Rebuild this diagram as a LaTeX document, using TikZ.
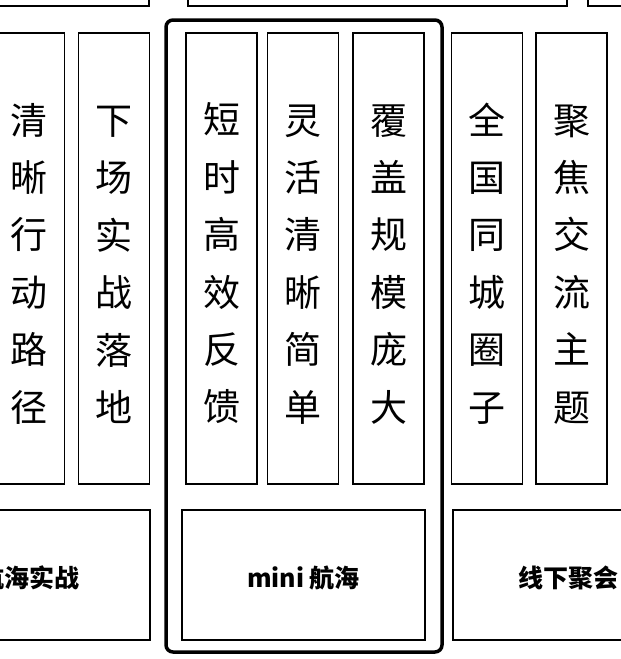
\documentclass[tikz,border=0pt]{standalone}
\usepackage{fontspec}
\setmainfont{Noto Sans CJK SC}
\usetikzlibrary{positioning}
\newcommand{\colstrut}{\rule{0pt}{41pt}}

\begin{document}
\begin{tikzpicture}[x=1pt, y=-1pt,
  colbox/.style={draw, line width=1.8pt, inner sep=0pt, minimum width=71pt,
    minimum height=451pt, align=center, font=\fontsize{37}{57.4}\selectfont},
  basebox/.style={draw, line width=1.8pt, inner sep=0pt, minimum height=130pt,
    text height=25pt, text depth=0pt, font=\fontsize{25}{25}\selectfont\bfseries},
  frame/.style={draw, line width=3.5pt, rounded corners=7pt, inner sep=0pt,
    minimum width=276pt, minimum height=632pt}]
  \clip (0,0) rectangle (621,659);
  % top row, cut by the edge
  \node[basebox, minimum width=240pt, anchor=south east] (top1) at (150,7) {};
  \node[basebox, minimum width=379pt, anchor=south west] (top2) at (187,7) {};
  \node[basebox, minimum width=240pt, anchor=south west] (top3) at (587,7) {};
  % columns
  \node[colbox] (path) at (29,258.5) {\colstrut 清\\晰\\行\\动\\路\\径};
  \node[colbox] (land) at (114,258.5) {\colstrut 下\\场\\实\\战\\落\\地};
  \node[colbox] (fast) at (221.5,258.5) {\colstrut 短\\时\\高\\效\\反\\馈};
  \node[colbox] (easy) at (303,258.5) {\colstrut 灵\\活\\清\\晰\\简\\单};
  \node[colbox] (wide) at (388.5,258.5) {\colstrut 覆\\盖\\规\\模\\庞\\大};
  \node[colbox] (city) at (487,258.5) {\colstrut 全\\国\\同\\城\\圈\\子};
  \node[colbox] (topic) at (571.5,258.5) {\colstrut 聚\\焦\\交\\流\\主\\题};
  % bottom row
  \node[basebox, minimum width=240pt] (practice) at (30,575) {航海实战};
  \node[basebox, minimum width=243pt] (mini) at (303.5,575) {mini 航海};
  \node[basebox, minimum width=230pt] (meet) at (568,575) {线下聚会};
  % frame round the middle
  \node[frame] (miniframe) at (304,336) {};
\end{tikzpicture}
\end{document}
